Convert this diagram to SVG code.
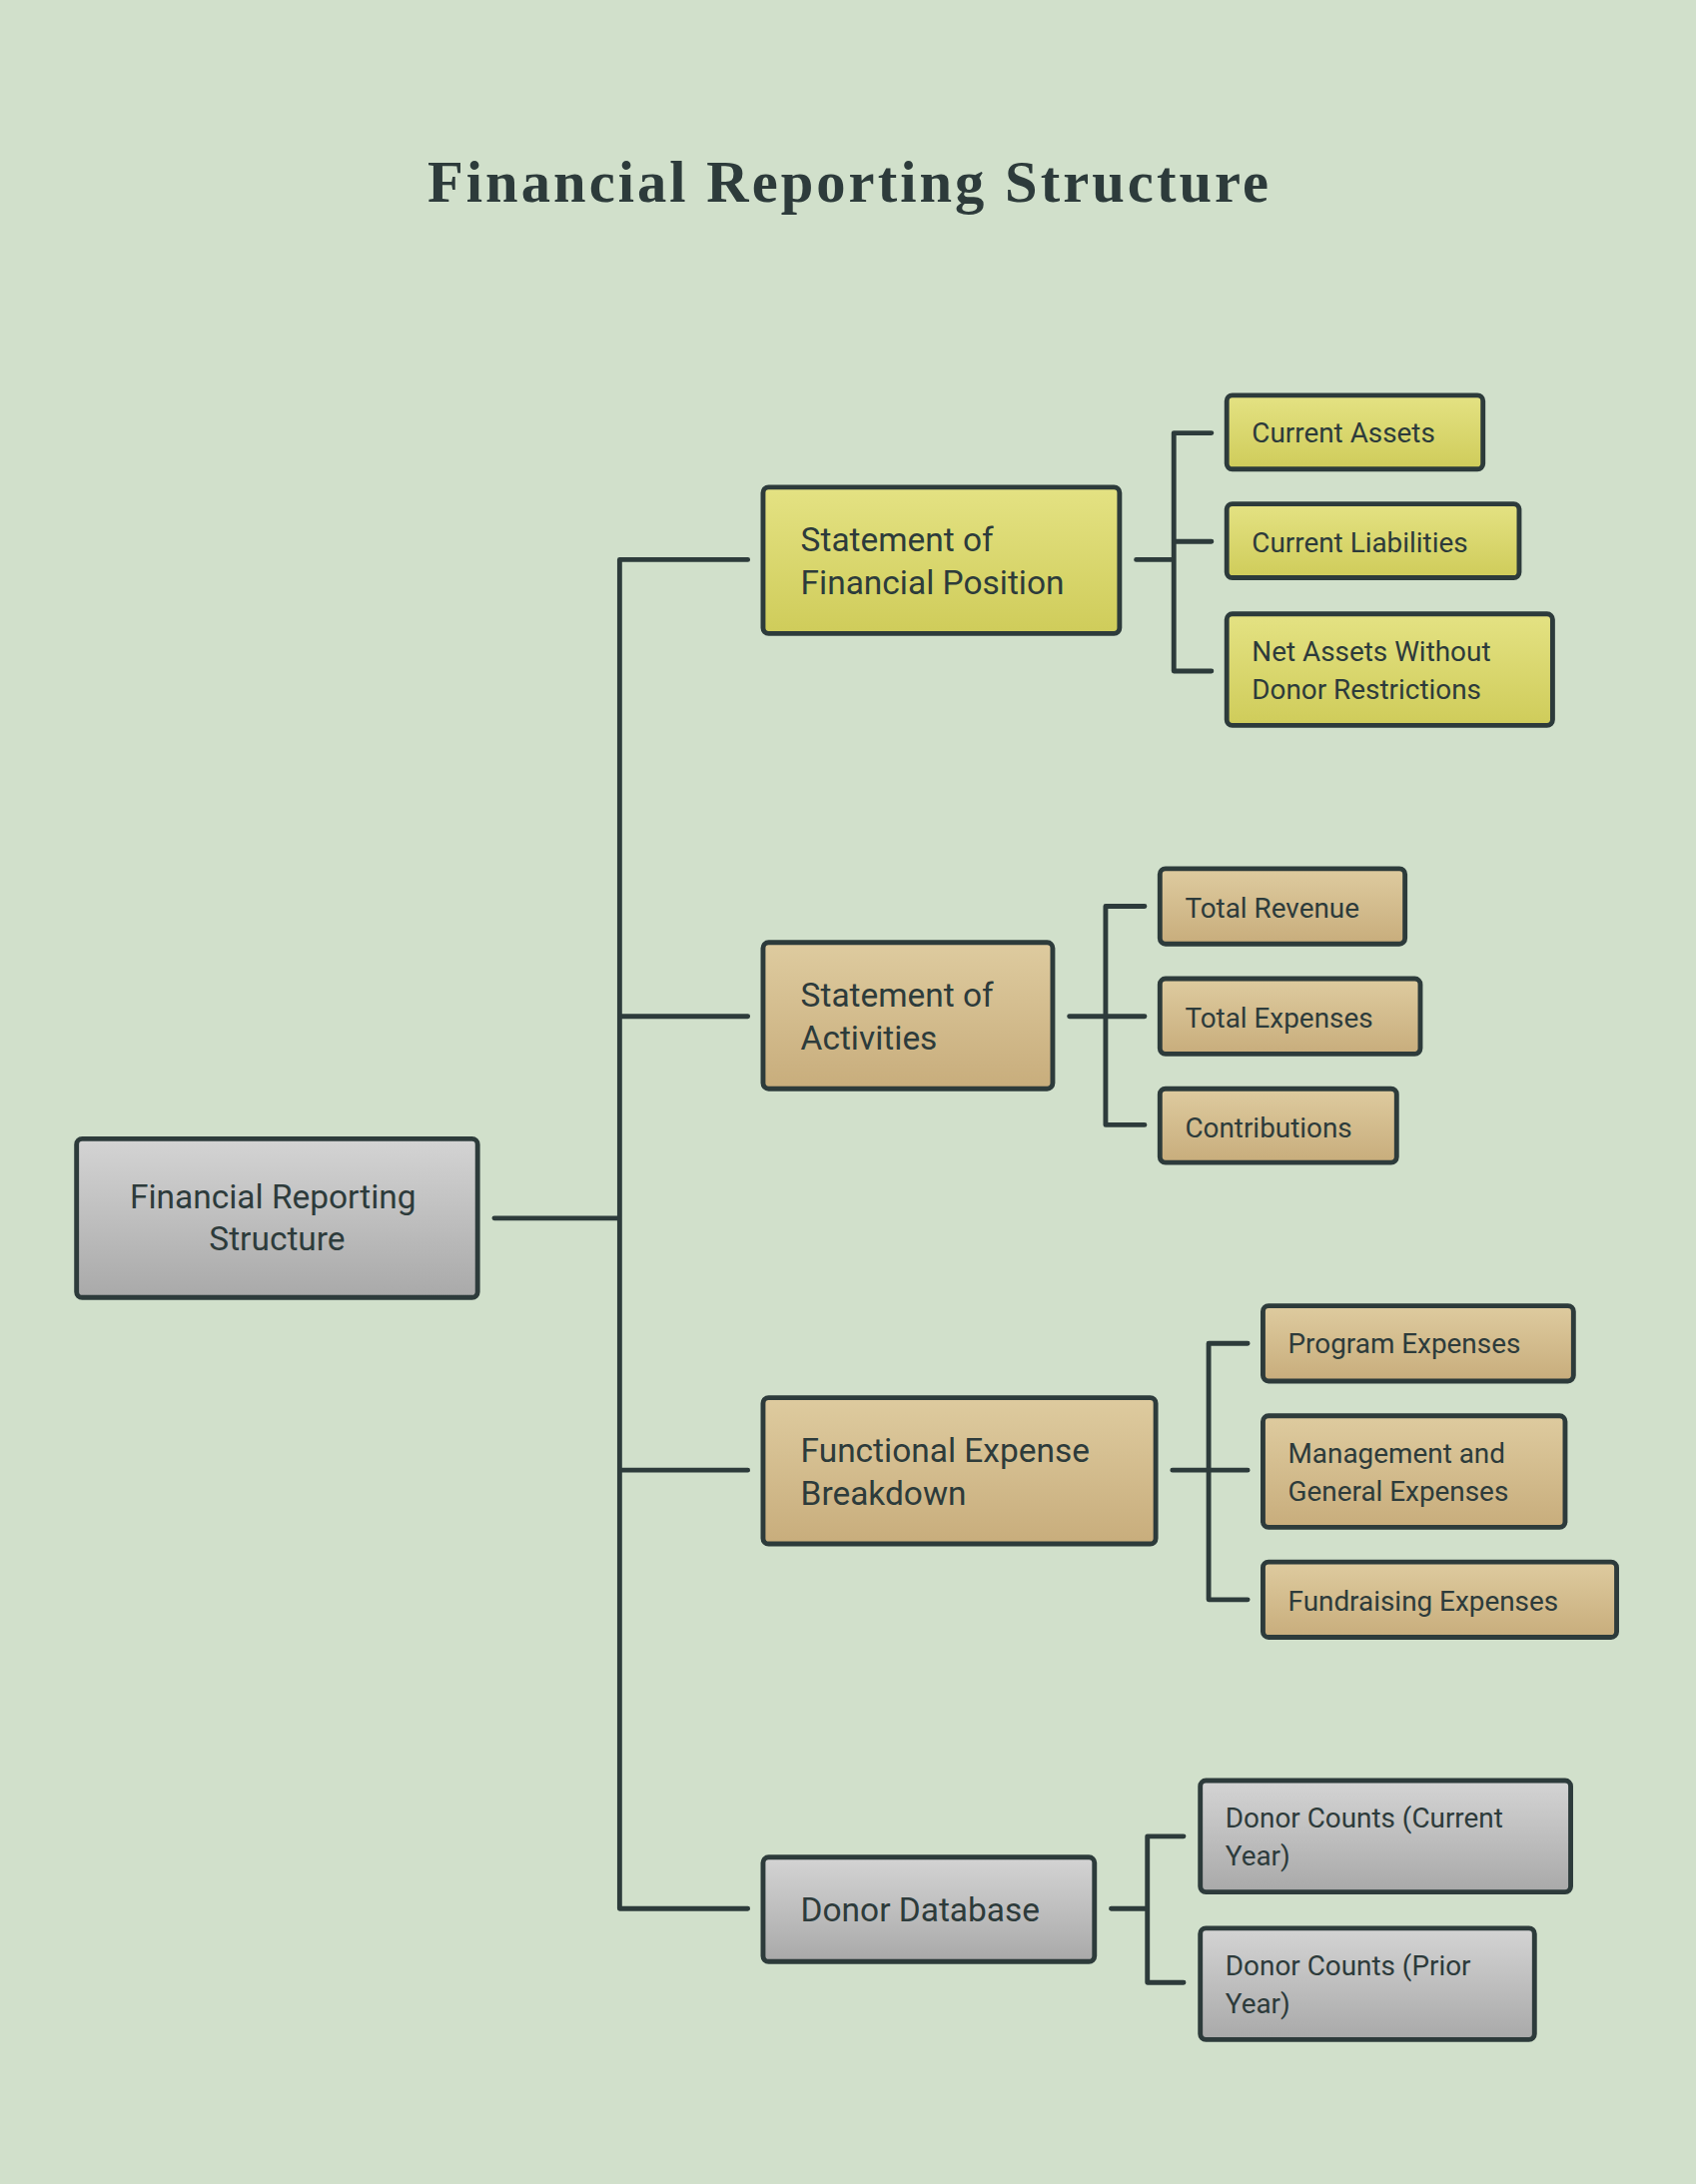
<svg xmlns="http://www.w3.org/2000/svg" width="1698" height="2187" viewBox="0 0 1698 2187">
<defs>
<linearGradient id="gy" x1="0" y1="0" x2="0" y2="1"><stop offset="0" stop-color="#e4e283"/><stop offset="1" stop-color="#cfcc5a"/></linearGradient>
<linearGradient id="gt" x1="0" y1="0" x2="0" y2="1"><stop offset="0" stop-color="#decb9f"/><stop offset="1" stop-color="#c8ad7c"/></linearGradient>
<linearGradient id="gg" x1="0" y1="0" x2="0" y2="1"><stop offset="0" stop-color="#d4d4d4"/><stop offset="1" stop-color="#a9a9a9"/></linearGradient>
<style>
.n{stroke:#2d3b3b;stroke-width:3.5}
.y{fill:url(#gy)}.t{fill:url(#gt)}.g{fill:url(#gg)}
text{font-family:Roboto,"Liberation Sans",sans-serif;fill:#2d3b3b}
.l1{font-size:24px}.l2{font-size:20px}
.c path{fill:none;stroke:#2d3b3b;stroke-width:3.5;stroke-linecap:round}
</style>
</defs>
<rect width="1698" height="2187" fill="#d1e0cb"/>
<g transform="scale(1.3941)">
<text x="609" y="145" text-anchor="middle" textLength="604" style="font-family:'Liberation Serif',serif;font-weight:bold;font-size:42px">Financial Reporting Structure</text>
<g class="c">
<path d="M355 875H445M445 402V1371M445 402H537M445 730H537M445 1056H537M445 1371H537"/>
<path d="M816 402H843M843 311V482M843 311H870M843 389H870M843 482H870"/>
<path d="M768 730H794M794 651V808M794 651H822M794 730H822M794 808H822"/>
<path d="M842 1056H868M868 965V1149M868 965H896M868 1056H896M868 1149H896"/>
<path d="M798 1371H824M824 1319V1424M824 1319H850M824 1424H850"/>
</g>
<g id="root"><rect class="n g" x="55" y="818" width="288" height="114" rx="4"/><text class="l1" x="196" y="868" text-anchor="middle">Financial Reporting</text><text class="l1" x="199" y="898" text-anchor="middle">Structure</text></g>
<g id="sfp"><rect class="n y" x="548" y="350" width="256" height="105" rx="4"/><text class="l1" x="575" y="396">Statement of</text><text class="l1" x="575" y="427">Financial Position</text></g>
<g id="soa"><rect class="n t" x="548" y="677" width="208" height="105" rx="4"/><text class="l1" x="575" y="723">Statement of</text><text class="l1" x="575" y="754">Activities</text></g>
<g id="feb"><rect class="n t" x="548" y="1004" width="282" height="105" rx="4"/><text class="l1" x="575" y="1050">Functional Expense</text><text class="l1" x="575" y="1081">Breakdown</text></g>
<g id="dd"><rect class="n g" x="548" y="1334" width="238" height="75" rx="4"/><text class="l1" x="575" y="1380">Donor Database</text></g>
<g id="ca"><rect class="n y" x="881" y="284" width="184" height="53" rx="4"/><text class="l2" x="899" y="318">Current Assets</text></g>
<g id="cl"><rect class="n y" x="881" y="362" width="210" height="53" rx="4"/><text class="l2" x="899" y="397">Current Liabilities</text></g>
<g id="na"><rect class="n y" x="881" y="441" width="234" height="80" rx="4"/><text class="l2" x="899" y="475">Net Assets Without</text><text class="l2" x="899" y="502">Donor Restrictions</text></g>
<g id="tr"><rect class="n t" x="833" y="624" width="176" height="54" rx="4"/><text class="l2" x="851" y="659">Total Revenue</text></g>
<g id="te"><rect class="n t" x="833" y="703" width="187" height="54" rx="4"/><text class="l2" x="851" y="738">Total Expenses</text></g>
<g id="co"><rect class="n t" x="833" y="782" width="170" height="53" rx="4"/><text class="l2" x="851" y="817">Contributions</text></g>
<g id="pe"><rect class="n t" x="907" y="938" width="223" height="54" rx="4"/><text class="l2" x="925" y="972">Program Expenses</text></g>
<g id="mg"><rect class="n t" x="907" y="1017" width="217" height="80" rx="4"/><text class="l2" x="925" y="1051">Management and</text><text class="l2" x="925" y="1078">General Expenses</text></g>
<g id="fe"><rect class="n t" x="907" y="1122" width="254" height="54" rx="4"/><text class="l2" x="925" y="1157">Fundraising Expenses</text></g>
<g id="dc"><rect class="n g" x="862" y="1279" width="266" height="80" rx="4"/><text class="l2" x="880" y="1313">Donor Counts (Current</text><text class="l2" x="880" y="1340">Year)</text></g>
<g id="dp"><rect class="n g" x="862" y="1385" width="240" height="80" rx="4"/><text class="l2" x="880" y="1419">Donor Counts (Prior</text><text class="l2" x="880" y="1446">Year)</text></g>
</g>
</svg>
